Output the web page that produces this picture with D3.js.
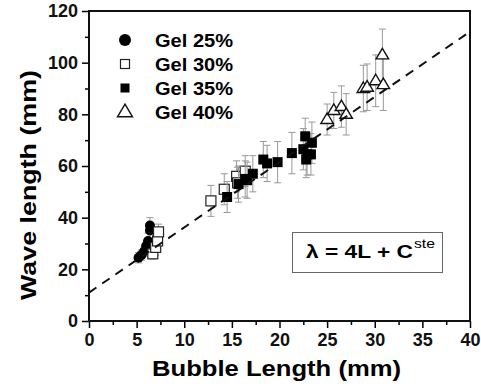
<!DOCTYPE html>
<html>
<head>
<meta charset="utf-8">
<script src="https://cdn.jsdelivr.net/npm/d3@7"></script>
<style>
  body { margin: 0; background: #fff; }
  text { font-family: "Liberation Sans", Arial, sans-serif; }
</style>
</head>
<body>
<div id="chart"></div>
<script>
// data: bubble length (mm), wave length (mm), error (mm)
const gel25X = [5.2, 5.5, 5.8, 6.0, 6.2, 6.4, 6.4];
const gel25Y = [24.5, 25.5, 27, 29, 31, 35, 37];
const gel25E = [2, 2, 2, 2, 3, 3, 3];

const gel30X = [6.7, 7.0, 7.2, 7.3, 12.8, 14.2, 15.5, 15.6, 16.4];
const gel30Y = [26, 28.5, 31, 34.5, 46.5, 51, 56, 53.5, 58];
const gel30E = [2, 3, 3, 3, 6, 6, 6, 6, 6];

const gel35X = [14.5, 15.7, 16.4, 16.6, 17.2, 18.3, 18.7, 19.8, 21.3, 22.5, 22.7, 22.9, 23.4, 23.3, 22.8];
const gel35Y = [48, 53, 55, 54.5, 57, 62.5, 61, 61.5, 65, 66.5, 71.5, 64.5, 69, 64.5, 62.5];
const gel35E = [6, 7, 7, 7, 7, 7, 7, 8, 8, 8, 7, 8, 8, 8, 7];

const gel40X = [25.0, 25.7, 26.5, 27.0, 28.8, 29.2, 30.1, 30.9, 30.8];
const gel40Y = [78, 81.5, 83, 80, 90, 90.5, 93, 91.5, 103];
const gel40E = [6, 7, 8, 8, 9, 9, 10, 10, 10];

const seriesNames = ["Gel 25%", "Gel 30%", "Gel 35%", "Gel 40%"];

// dashed fit line end points
const fitX = [0, 40];
const fitY = [11, 112];

const xTicks = [0, 5, 10, 15, 20, 25, 30, 35, 40];
const yTicks = [0, 20, 40, 60, 80, 100, 120];

// Dimensions
const margin = {top: 11, right: 11, bottom: 71, left: 89},
  width = 481 - margin.left - margin.right,
  height = 392 - margin.top - margin.bottom;

const svg = d3.select("#chart")
  .append("svg")
    .attr("width", 481)
    .attr("height", 392)
  .append("g")
    .attr("transform", `translate(${margin.left},${margin.top})`);

const x = d3.scaleLinear().domain([0, 40]).range([0, width]);
const y = d3.scaleLinear().domain([0, 120]).range([height, 0]);

// minor ticks
svg.append("g")
  .attr("transform", `translate(0,${height})`)
  .call(d3.axisBottom(x).tickValues(d3.range(2.5, 40, 5)).tickSize(4).tickFormat(""))
  .call(g => g.select(".domain").remove())
  .selectAll("line").attr("stroke-width", 1.5);
svg.append("g")
  .call(d3.axisLeft(y).tickValues(d3.range(10, 120, 20)).tickSize(4).tickFormat(""))
  .call(g => g.select(".domain").remove())
  .selectAll("line").attr("stroke-width", 1.5);

// X axis
const xAxis = svg.append("g")
  .attr("transform", `translate(0,${height})`)
  .call(d3.axisBottom(x).tickValues(xTicks).tickSize(7).tickPadding(5).tickSizeOuter(0));
xAxis.select(".domain").remove();
xAxis.selectAll("line").attr("stroke-width", 1.5);
xAxis.selectAll("text")
  .style("font-size", "18px").style("font-weight", "bold").attr("fill", "#111");

// Y axis
const yAxis = svg.append("g")
  .call(d3.axisLeft(y).tickValues(yTicks).tickSize(7).tickPadding(4).tickSizeOuter(0));
yAxis.select(".domain").remove();
yAxis.selectAll("line").attr("stroke-width", 1.5);
yAxis.selectAll("text")
  .style("font-size", "18px").style("font-weight", "bold").attr("fill", "#111");

// frame
svg.append("rect")
  .attr("x", 0).attr("y", 0)
  .attr("width", width).attr("height", height)
  .attr("fill", "none").attr("stroke", "#111").attr("stroke-width", 2);

// axis titles
svg.append("text")
  .attr("x", width / 2 - 3)
  .attr("y", height + 55)
  .attr("text-anchor", "middle")
  .attr("textLength", 249)
  .attr("lengthAdjust", "spacingAndGlyphs")
  .style("font-size", "22px").style("font-weight", "bold")
  .text("Bubble Length (mm)");

svg.append("text")
  .attr("transform", `translate(${36 - margin.left},${185 - margin.top}) rotate(-90)`)
  .attr("text-anchor", "middle")
  .attr("textLength", 230)
  .attr("lengthAdjust", "spacingAndGlyphs")
  .style("font-size", "22px").style("font-weight", "bold")
  .text("Wave length (mm)");

// series
const series = [
  {name: seriesNames[0], xs: gel25X, ys: gel25Y, es: gel25E, type: "circle"},
  {name: seriesNames[1], xs: gel30X, ys: gel30Y, es: gel30E, type: "openSquare"},
  {name: seriesNames[2], xs: gel35X, ys: gel35Y, es: gel35E, type: "square"},
  {name: seriesNames[3], xs: gel40X, ys: gel40Y, es: gel40E, type: "triangle"}
];

function drawMarker(g, type, size) {
  if (type === "circle") {
    g.append("circle").attr("r", size * 0.5).attr("fill", "#000");
  } else if (type === "openSquare") {
    g.append("rect").attr("x", -size / 2).attr("y", -size / 2)
      .attr("width", size).attr("height", size)
      .attr("fill", "#fff").attr("stroke", "#222").attr("stroke-width", 1.2);
  } else if (type === "square") {
    g.append("rect").attr("x", -size / 2).attr("y", -size / 2)
      .attr("width", size).attr("height", size).attr("fill", "#000");
  } else {
    const w = size * 1.25, h = size * 1.05;
    g.append("path")
      .attr("d", `M0,${-h * 0.62}L${w / 2},${h * 0.38}L${-w / 2},${h * 0.38}Z`)
      .attr("fill", "#fff").attr("stroke", "#111").attr("stroke-width", 1.4);
  }
}

series.forEach(s => {
  const pts = s.xs.map((v, i) => ({x: v, y: s.ys[i], e: s.es[i]}));
  const eb = svg.append("g").attr("stroke", "#999").attr("stroke-width", 1);
  pts.forEach(p => {
    eb.append("line").attr("x1", x(p.x)).attr("x2", x(p.x))
      .attr("y1", y(p.y + p.e)).attr("y2", y(p.y - p.e));
    [p.y + p.e, p.y - p.e].forEach(v => {
      eb.append("line").attr("x1", x(p.x) - 3.5).attr("x2", x(p.x) + 3.5)
        .attr("y1", y(v)).attr("y2", y(v));
    });
  });
  svg.append("g").selectAll("g")
    .data(pts)
    .join("g")
      .attr("transform", d => `translate(${x(d.x)},${y(d.y)})`)
      .each(function() { drawMarker(d3.select(this), s.type, 10); });
});

// dashed fit line
svg.append("line")
  .attr("x1", x(fitX[0])).attr("y1", y(fitY[0]))
  .attr("x2", x(fitX[1])).attr("y2", y(fitY[1]))
  .attr("stroke", "#111").attr("stroke-width", 2)
  .attr("stroke-dasharray", "9,7");

// legend
const legend = svg.append("g")
  .attr("transform", `translate(${125 - margin.left},${40 - margin.top})`);
const legendItem = legend.selectAll(".legend-item")
  .data(series)
  .join("g")
    .attr("class", "legend-item")
    .attr("transform", (d, i) => `translate(0,${i * 24})`);
legendItem.each(function(d) {
  const sz = d.type === "circle" ? 12 : d.type === "triangle" ? 12 : 9;
  drawMarker(d3.select(this), d.type, sz);
});
legendItem.append("text")
  .attr("x", 30)
  .attr("y", 6.5)
  .attr("textLength", 78)
  .attr("lengthAdjust", "spacingAndGlyphs")
  .style("font-size", "18px").style("font-weight", "bold")
  .text(d => d.name);

// equation box
const eq = svg.append("g")
  .attr("transform", `translate(${292 - margin.left},${232 - margin.top})`);
eq.append("rect")
  .attr("x", 0.5).attr("y", 0.5)
  .attr("width", 150).attr("height", 40)
  .attr("fill", "#fff").attr("stroke", "#666").attr("stroke-width", 1);
eq.append("text")
  .attr("x", 14).attr("y", 26)
  .attr("textLength", 107)
  .attr("lengthAdjust", "spacingAndGlyphs")
  .style("font-size", "19px").style("font-weight", "bold")
  .text("λ = 4L + C");
eq.append("text")
  .attr("x", 122).attr("y", 16)
  .attr("textLength", 21)
  .attr("lengthAdjust", "spacingAndGlyphs")
  .style("font-size", "13px")
  .text("ste");
</script>
</body>
</html>
